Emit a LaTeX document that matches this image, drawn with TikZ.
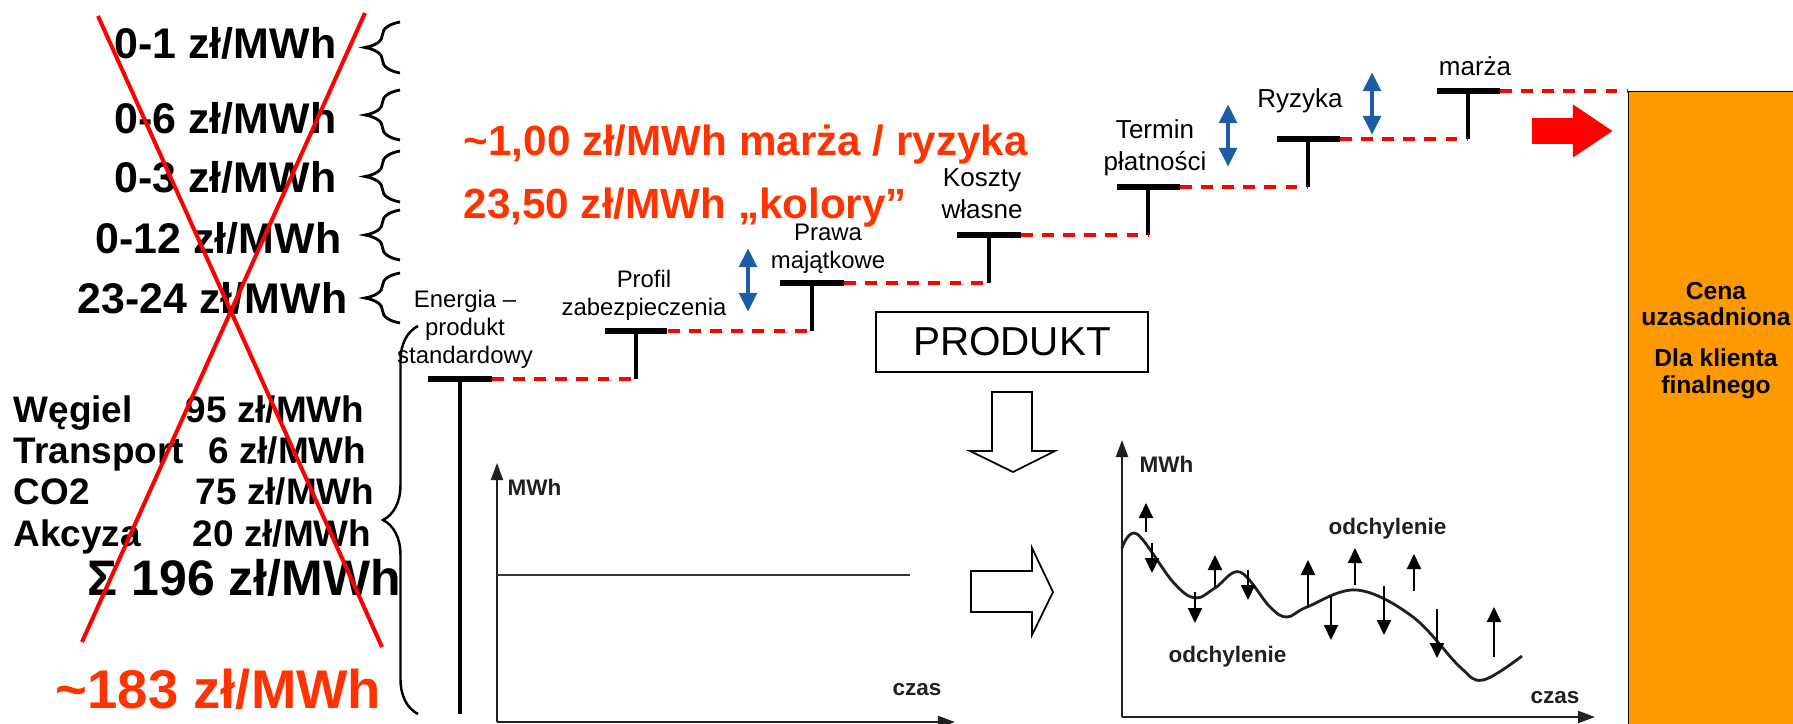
\documentclass[tikz,border=0pt]{standalone}
\usepackage{fontspec}
\setmainfont{Liberation Sans}
\usetikzlibrary{arrows.meta, decorations.pathreplacing}

\definecolor{redorange}{RGB}{255,51,0}
\definecolor{boxorange}{RGB}{255,153,0}
\definecolor{arrowblue}{RGB}{28,93,168}
\definecolor{chartgray}{RGB}{35,31,32}

\begin{document}
\begin{tikzpicture}[x=0.01cm, y=-0.01cm,
        pricerange/.style={font=\fontsize{12.2}{14}\selectfont\bfseries, inner sep=0, anchor=base east},
        costitem/.style={font=\fontsize{10.5}{12}\selectfont\bfseries, inner sep=0},
        headline/.style={text=redorange, font=\fontsize{12}{14}\selectfont\bfseries, inner sep=0, anchor=base west},
        steplabel/.style={align=center, inner sep=0, anchor=base, font=\fontsize{6.8}{7.9}\selectfont},
        steplabelbig/.style={align=center, inner sep=0, anchor=base, font=\fontsize{7.4}{8.9}\selectfont},
        bracket/.style={decorate, decoration={brace, amplitude=0.35cm}, line width=0.8pt},
        tbar/.style={line width=1.6pt},
        tstem/.style={line width=1.2pt},
        dashred/.style={red, line width=1pt, dash pattern=on 3.4pt off 2.6pt},
        bluearrow/.style={{Triangle[length=0.19cm, width=0.17cm]}-{Triangle[length=0.19cm, width=0.17cm]}, arrowblue, line width=1.4pt},
        chartaxis/.style={-{Triangle[length=0.17cm, width=0.12cm]}, chartgray, line width=0.6pt},
        chartlabel/.style={text=chartgray, font=\fontsize{6.4}{7.5}\selectfont\bfseries, inner sep=0},
        devarrow/.style={-{Triangle[length=0.15cm, width=0.14cm]}, line width=0.6pt},
        hollowarrow/.style={draw, line width=0.5pt, fill=white}
    ]
    \useasboundingbox (0,0) rectangle (1793,724);

    % Crossed out price components
    \node[pricerange] (r1) at (337,58) {0-1 zł/MWh};
    \node[pricerange] (r2) at (337,133) {0-6 zł/MWh};
    \node[pricerange] (r3) at (337,192) {0-3 zł/MWh};
    \node[pricerange] (r4) at (342,253) {0-12 zł/MWh};
    \node[pricerange] (r5) at (348,313) {23-24 zł/MWh};
    \draw[bracket] (400,73) -- (400,22);
    \draw[bracket] (400,140) -- (400,90);
    \draw[bracket] (400,202) -- (400,151);
    \draw[bracket] (400,260) -- (400,210);
    \draw[bracket] (400,323) -- (400,273);

    \node[costitem, anchor=base west] (wegiel) at (13,422) {Węgiel};
    \node[costitem, anchor=base east] (wegielv) at (365,422) {95 zł/MWh};
    \node[costitem, anchor=base west] (transport) at (13,463) {Transport};
    \node[costitem, anchor=base east] (transportv) at (367,463) {6 zł/MWh};
    \node[costitem, anchor=base west] (co2) at (13,504) {CO2};
    \node[costitem, anchor=base east] (co2v) at (375,504) {75 zł/MWh};
    \node[costitem, anchor=base west] (akcyza) at (13,546) {Akcyza};
    \node[costitem, anchor=base east] (akcyzav) at (372,546) {20 zł/MWh};
    \node[font=\fontsize{14.2}{16}\selectfont\bfseries, inner sep=0, anchor=base west] (suma) at (87,595) {Σ 196 zł/MWh};
    \node[font=\fontsize{15.5}{17}\selectfont\bfseries, text=redorange, inner sep=0, anchor=base west] (nowa) at (55,708) {\textasciitilde183 zł/MWh};
    \draw[bracket, line width=0.7pt] (418,714) -- (418,326);

    \draw[red, line width=1.15pt] (98,16) -- (382,647);
    \draw[red, line width=1.15pt] (365,13) -- (82,642);

    \node[headline] (marzahead) at (463,155) {\textasciitilde1,00 zł/MWh marża / ryzyka};
    \node[headline] (kolory) at (463,218) {23,50 zł/MWh „kolory”};

    % Final price box
    \node[draw, line width=0.4pt, fill=boxorange, anchor=north west, minimum width=2cm, minimum height=6.5cm] (cena) at (1628,91) {};
    \node[align=center, inner sep=0, anchor=base, font=\fontsize{7}{7.5}\selectfont\bfseries] (cenatxt) at (1716,393) {Cena\\uzasadniona\\[4.2pt]Dla klienta\\finalnego};

    % Steps
    \coordinate (energia) at (460,379);
    \coordinate (profil) at (636,331);
    \coordinate (prawa) at (812,283);
    \coordinate (koszty) at (989,235);
    \coordinate (termin) at (1148,187);
    \coordinate (ryzyka) at (1308,139);
    \coordinate (marza) at (1468,91);

    \draw[tstem] (energia) -- ++(0,335);
    \draw[tstem] (profil) -- (energia -| profil);
    \draw[tstem] (prawa) -- (profil -| prawa);
    \draw[tstem] (koszty) -- (prawa -| koszty);
    \draw[tstem] (termin) -- (koszty -| termin);
    \draw[tstem] (ryzyka) -- (termin -| ryzyka);
    \draw[tstem] (marza) -- (ryzyka -| marza);

    \draw[dashred] ([xshift=0.32cm]energia) -- (energia -| profil);
    \draw[dashred] ([xshift=0.32cm]profil) -- (profil -| prawa);
    \draw[dashred] ([xshift=0.32cm]prawa) -- (prawa -| koszty);
    \draw[dashred] ([xshift=0.32cm]koszty) -- (koszty -| termin);
    \draw[dashred] ([xshift=0.32cm]termin) -- (termin -| ryzyka);
    \draw[dashred] ([xshift=0.32cm]ryzyka) -- (ryzyka -| marza);
    \draw[dashred] ([xshift=0.32cm]marza) -- (cena.north west);

    \draw[tbar] ([xshift=-0.32cm]energia) -- ([xshift=0.32cm]energia);
    \draw[tbar] ([xshift=-0.31cm]profil) -- ([xshift=0.31cm]profil);
    \draw[tbar] ([xshift=-0.32cm]prawa) -- ([xshift=0.32cm]prawa);
    \draw[tbar] ([xshift=-0.32cm]koszty) -- ([xshift=0.32cm]koszty);
    \draw[tbar] ([xshift=-0.31cm]termin) -- ([xshift=0.32cm]termin);
    \draw[tbar] ([xshift=-0.31cm]ryzyka) -- ([xshift=0.32cm]ryzyka);
    \draw[tbar] ([xshift=-0.31cm]marza) -- ([xshift=0.32cm]marza);

    % (base anchor of a multi-line label = its last line)
    \node[steplabel] (energialbl) at (465,363) {Energia –\\produkt\\standardowy};
    \node[steplabel] (profillbl) at (644,315) {Profil\\zabezpieczenia};
    \node[steplabel] (prawalbl) at (828,268) {Prawa\\majątkowe};
    \node[steplabelbig] (kosztylbl) at (982,218) {Koszty\\własne};
    \node[steplabelbig] (terminlbl) at (1155,170) {Termin\\płatności};
    \node[steplabelbig] (ryzykalbl) at (1300,107) {Ryzyka};
    \node[steplabelbig] (marzalbl) at (1475,75) {marża};

    % Risk ranges
    \coordinate (b1top) at (748,248);
    \coordinate (b1bot) at (748,312);
    \coordinate (b2top) at (1228,104);
    \coordinate (b2bot) at (1228,167);
    \coordinate (b3top) at (1372,72);
    \coordinate (b3bot) at (1372,135);
    \draw[bluearrow] (b1top) -- (b1bot);
    \draw[bluearrow] (b2top) -- (b2bot);
    \draw[bluearrow] (b3top) -- (b3bot);

    \coordinate (redtail) at (1532,131);
    \draw[-{Triangle[length=0.4cm, width=0.5cm]}, red, line width=0.25cm, shorten >=0.15cm] (redtail) -- (cena.west |- redtail);

    % Product
    \node[draw, line width=0.5pt, minimum width=2.72cm, minimum height=0.6cm, inner sep=0, font=\fontsize{11.5}{13}\selectfont] (produkt) at (1012,342) {PRODUKT};
    \draw[hollowarrow] (992,392) -- (1032,392) -- (1032,451) -- (1055,451) -- (1013,472) -- (970,451) -- (992,451) -- cycle;
    \draw[hollowarrow] (971,571) -- (1032,571) -- (1032,548) -- (1053,592) -- (1032,635) -- (1032,612) -- (971,612) -- cycle;

    % Flat profile chart
    \coordinate (o1) at (497,722);
    \draw[chartaxis] (o1) -- (497,463);
    \draw[chartaxis] (o1) -- (955,722);
    \draw[chartgray!90, line width=0.7pt] (497,575) -- (910,575);
    \node[chartlabel, anchor=base west] (mwh1) at (507,495) {MWh};
    \node[chartlabel, anchor=base west] (czas1) at (892,695) {czas};

    % Real profile chart
    \coordinate (o2) at (1122,717);
    \draw[chartaxis] (o2) -- (1122,440);
    \draw[chartaxis] (o2) -- (1595,717);
    \draw[chartgray, line width=0.8pt] plot[smooth, tension=0.6] coordinates {(1122,548) (1137,534) (1173,582) (1195,598) (1215,588) (1240,572) (1270,607) (1287,617) (1307,607) (1357,590) (1413,617) (1460,667) (1483,680) (1522,656)};
    \foreach \x/\a/\b in {1146/532/503, 1152/543/573, 1195/592/623, 1215/587/555, 1248/570/600, 1308/608/560, 1331/596/640, 1355/585/548, 1384/586/635, 1414/591/554, 1437/609/658, 1494/657/607}
        \draw[devarrow] (\x,\a) -- (\x,\b);
    \node[chartlabel, anchor=base west] (mwh2) at (1139,472) {MWh};
    \node[chartlabel, anchor=base east] (czas2) at (1580,703) {czas};
    \node[chartlabel, anchor=base west] (odch1) at (1328,534) {odchylenie};
    \node[chartlabel, anchor=base west] (odch2) at (1168,662) {odchylenie};
\end{tikzpicture}
\end{document}
